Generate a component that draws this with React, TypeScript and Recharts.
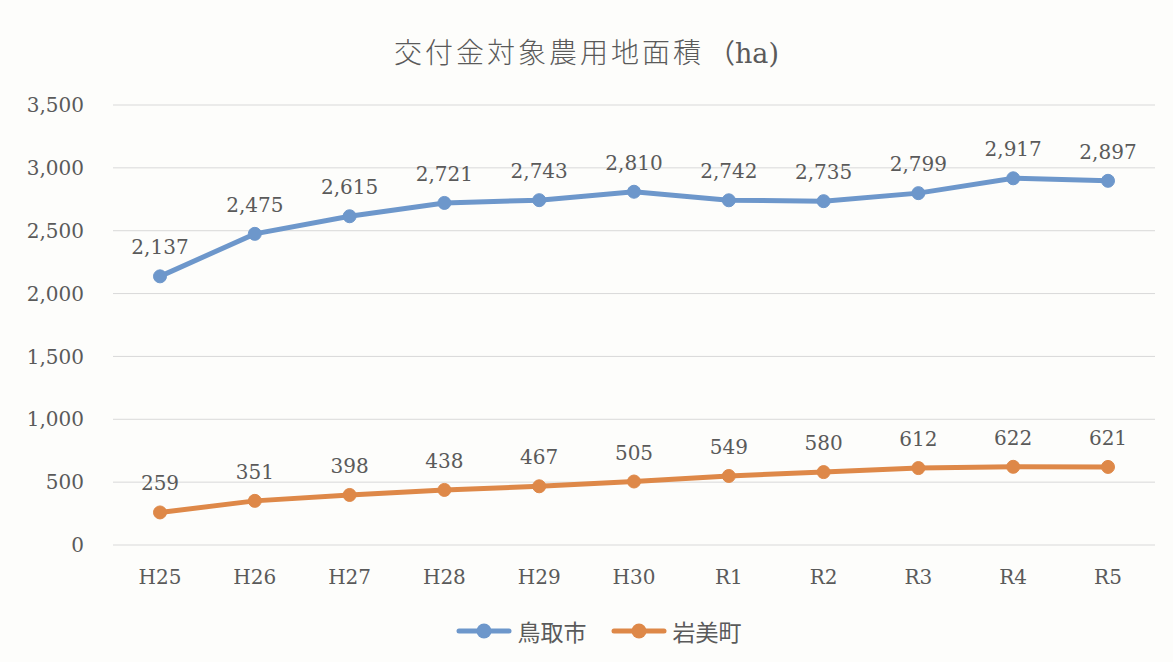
import React from 'react';
import { LineChart, Line, XAxis, YAxis, CartesianGrid, LabelList, Legend } from 'recharts';

const categories = ['H25', 'H26', 'H27', 'H28', 'H29', 'H30', 'R1', 'R2', 'R3', 'R4', 'R5'];
const tottori = [2137, 2475, 2615, 2721, 2743, 2810, 2742, 2735, 2799, 2917, 2897];
const iwami = [259, 351, 398, 438, 467, 505, 549, 580, 612, 622, 621];
const yTicks = [0, 500, 1000, 1500, 2000, 2500, 3000, 3500];
const seriesNames = ['鳥取市', '岩美町'];
const titleMain = '交付金対象農用地面積';
const titleUnit = '（ha)';

const BLUE = '#6d97cb';
const ORANGE = '#de8848';
const TEXT = '#5a5a5a';
const FONT = '"DejaVu Serif", "Noto Sans CJK JP", serif';

const data = categories.map((c, i) => ({ name: c, tottori: tottori[i], iwami: iwami[i] }));

const fmt = (v: any) => String(v).replace(/\B(?=(\d{3})+(?!\d))/g, ',');

const renderLegend = (props: any) => {
  const payload = [...(props.payload || [])].sort(
    (a: any, b: any) => seriesNames.indexOf(a.value) - seriesNames.indexOf(b.value)
  );
  return (
    <div style={{ display: 'flex', justifyContent: 'center', alignItems: 'center', gap: 24, paddingLeft: 24 }}>
      {payload.map((p: any) => (
        <div key={p.value} style={{ display: 'flex', alignItems: 'center' }}>
          <svg width={56} height={18} style={{ marginRight: 6 }}>
            <line x1={3} y1={9} x2={53} y2={9} stroke={p.color} strokeWidth={5} strokeLinecap="round" />
            <circle cx={28} cy={9} r={7.5} fill={p.color} />
          </svg>
          <span style={{ fontFamily: '"Noto Sans CJK JP", sans-serif', fontSize: 23, color: TEXT }}>{p.value}</span>
        </div>
      ))}
    </div>
  );
};

export default function App() {
  return (
    <div style={{ position: 'absolute', left: 0, top: 0, width: 1173, height: 662, background: '#fdfdfb' }}>
      <div
        style={{
          position: 'absolute',
          top: 31,
          left: 0,
          width: 1173,
          textAlign: 'center',
          fontFamily: '"Noto Sans CJK JP", serif',
          fontWeight: 300,
          fontSize: 28,
          color: TEXT,
          lineHeight: '40px',
          paddingLeft: 0,
        }}
      >
        <span style={{ letterSpacing: 3 }}>{titleMain}</span>
        <span style={{ fontFamily: FONT, fontWeight: 400, fontSize: 27, paddingLeft: 4 }}>{titleUnit}</span>
      </div>
      <LineChart width={1173} height={662} data={data} margin={{ top: 105, right: 18, left: 0, bottom: 87 }}>
        <CartesianGrid vertical={false} stroke="#d9d9d9" />
        <XAxis
          dataKey="name"
          axisLine={false}
          tickLine={false}
          tickSize={0}
          tickMargin={25}
          height={30}
          interval={0}
          padding={{ left: 47, right: 47 }}
          tick={{ fill: TEXT, fontSize: 20, fontFamily: FONT }}
        />
        <YAxis
          domain={[0, 3500]}
          ticks={yTicks}
          axisLine={false}
          tickLine={false}
          tickSize={0}
          tickMargin={29}
          width={113}
          tickFormatter={fmt}
          tick={{ fill: TEXT, fontSize: 20, fontFamily: FONT }}
        />
        <Legend
          layout="horizontal"
          verticalAlign="middle"
          align="center"
          content={renderLegend}
          wrapperStyle={{ top: 614, left: 0, width: 1173 }}
        />
        <Line
          name={seriesNames[0]}
          type="linear"
          dataKey="tottori"
          stroke={BLUE}
          strokeWidth={5}
          dot={{ r: 6.5, fill: BLUE, stroke: BLUE, strokeWidth: 1 }}
          activeDot={false}
          isAnimationActive={false}
        >
          <LabelList dataKey="tottori" position="top" offset={22} formatter={fmt} style={{ fill: TEXT, fontSize: 20, fontFamily: FONT }} />
        </Line>
        <Line
          name={seriesNames[1]}
          type="linear"
          dataKey="iwami"
          stroke={ORANGE}
          strokeWidth={5}
          dot={{ r: 6.5, fill: ORANGE, stroke: ORANGE, strokeWidth: 1 }}
          activeDot={false}
          isAnimationActive={false}
        >
          <LabelList dataKey="iwami" position="top" offset={22} formatter={fmt} style={{ fill: TEXT, fontSize: 20, fontFamily: FONT }} />
        </Line>
      </LineChart>
    </div>
  );
}
